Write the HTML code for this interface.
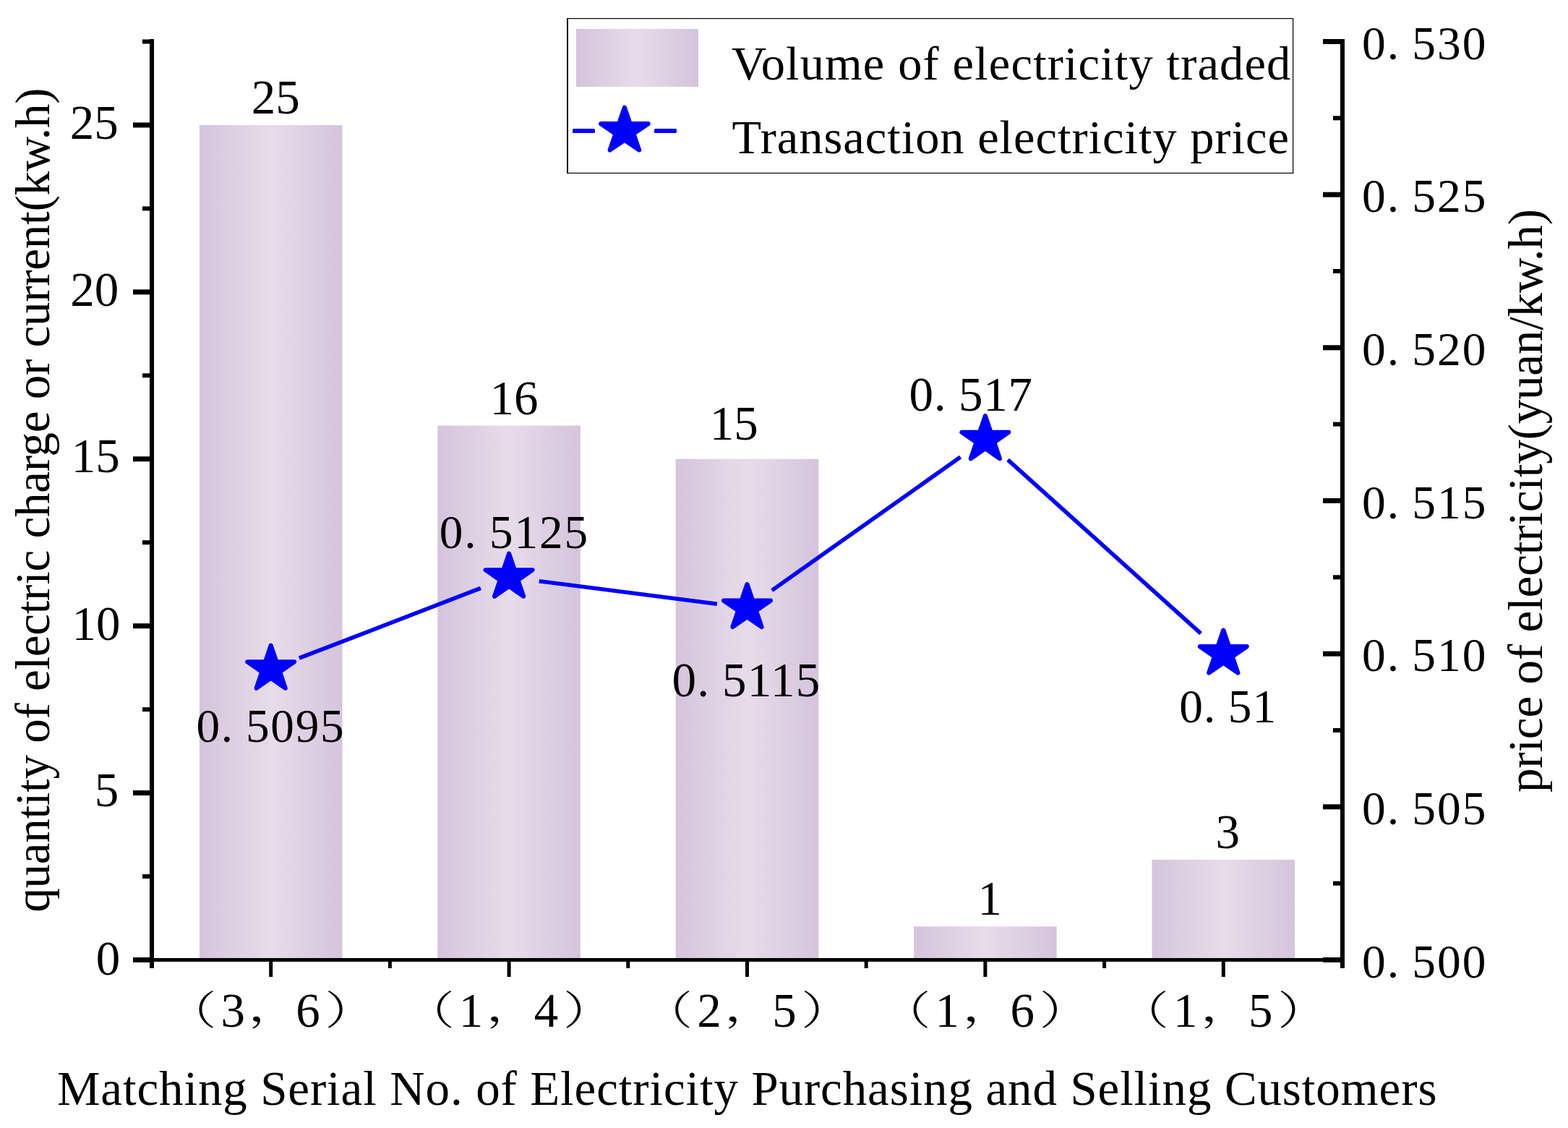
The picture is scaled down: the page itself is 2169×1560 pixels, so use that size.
<!DOCTYPE html><html><head><meta charset="utf-8"><title>chart</title><style>html,body{margin:0;padding:0;background:#fff;overflow:hidden}svg{display:block}</style></head><body>
<svg width="2169" height="1560" viewBox="0 0 2169 1560">
<defs><linearGradient id="bg" x1="0" y1="0" x2="1" y2="0"><stop offset="0" stop-color="#d5c4dc"/><stop offset="0.5" stop-color="#e7dcea"/><stop offset="1" stop-color="#d5c4dc"/></linearGradient></defs>
<rect width="2169" height="1560" fill="#fff"/>
<rect x="275.90" y="172.95" width="197.60" height="1154.55" fill="url(#bg)"/>
<rect x="605.30" y="588.59" width="197.60" height="738.91" fill="url(#bg)"/>
<rect x="934.70" y="634.77" width="197.60" height="692.73" fill="url(#bg)"/>
<rect x="1264.10" y="1281.32" width="197.60" height="46.18" fill="url(#bg)"/>
<rect x="1593.50" y="1188.95" width="197.60" height="138.55" fill="url(#bg)"/>
<line x1="413.89" y1="910.22" x2="664.91" y2="813.44" stroke="#0000ff" stroke-width="5.6"/>
<line x1="745.76" y1="803.69" x2="991.84" y2="835.31" stroke="#0000ff" stroke-width="5.6"/>
<line x1="1067.80" y1="816.42" x2="1328.60" y2="632.08" stroke="#0000ff" stroke-width="5.6"/>
<line x1="1394.12" y1="635.92" x2="1661.08" y2="876.08" stroke="#0000ff" stroke-width="5.6"/>
<polygon points="374.70,892.73 382.35,915.26 407.10,915.26 387.07,929.18 394.72,951.71 374.70,937.78 354.68,951.71 362.33,929.18 342.30,915.26 367.05,915.26" fill="#0000ff" stroke="#0000ff" stroke-width="6.20" stroke-linejoin="round"/>
<polygon points="704.10,765.73 711.75,788.26 736.50,788.26 716.47,802.18 724.12,824.71 704.10,810.78 684.08,824.71 691.73,802.18 671.70,788.26 696.45,788.26" fill="#0000ff" stroke="#0000ff" stroke-width="6.20" stroke-linejoin="round"/>
<polygon points="1033.50,808.07 1041.15,830.59 1065.90,830.59 1045.87,844.51 1053.52,867.04 1033.50,853.12 1013.48,867.04 1021.13,844.51 1001.10,830.59 1025.85,830.59" fill="#0000ff" stroke="#0000ff" stroke-width="6.20" stroke-linejoin="round"/>
<polygon points="1362.90,575.23 1370.55,597.76 1395.30,597.76 1375.27,611.68 1382.92,634.21 1362.90,620.28 1342.88,634.21 1350.53,611.68 1330.50,597.76 1355.25,597.76" fill="#0000ff" stroke="#0000ff" stroke-width="6.20" stroke-linejoin="round"/>
<polygon points="1692.30,871.57 1699.95,894.09 1724.70,894.09 1704.67,908.01 1712.32,930.54 1692.30,916.62 1672.28,930.54 1679.93,908.01 1659.90,894.09 1684.65,894.09" fill="#0000ff" stroke="#0000ff" stroke-width="6.20" stroke-linejoin="round"/>
<g fill="#000">
<rect x="207" y="54" width="6" height="1285"/>
<rect x="1854" y="54" width="6" height="1285"/>
<rect x="207" y="1325" width="1653" height="5"/>
<rect x="184" y="1324.00" width="29" height="7"/>
<rect x="197" y="1209.05" width="16" height="6"/>
<rect x="184" y="1093.09" width="29" height="7"/>
<rect x="197" y="978.14" width="16" height="6"/>
<rect x="184" y="862.18" width="29" height="7"/>
<rect x="197" y="747.23" width="16" height="6"/>
<rect x="184" y="631.27" width="29" height="7"/>
<rect x="197" y="516.32" width="16" height="6"/>
<rect x="184" y="400.36" width="29" height="7"/>
<rect x="197" y="285.41" width="16" height="6"/>
<rect x="184" y="169.45" width="29" height="7"/>
<rect x="197" y="54.50" width="16" height="6"/>
<rect x="1830" y="1324.00" width="30" height="7"/>
<rect x="1844" y="1218.67" width="16" height="6"/>
<rect x="1830" y="1112.33" width="30" height="7"/>
<rect x="1844" y="1007.00" width="16" height="6"/>
<rect x="1830" y="900.67" width="30" height="7"/>
<rect x="1844" y="795.33" width="16" height="6"/>
<rect x="1830" y="689.00" width="30" height="7"/>
<rect x="1844" y="583.67" width="16" height="6"/>
<rect x="1830" y="477.33" width="30" height="7"/>
<rect x="1844" y="372.00" width="16" height="6"/>
<rect x="1830" y="265.67" width="30" height="7"/>
<rect x="1844" y="160.33" width="16" height="6"/>
<rect x="1830" y="54.00" width="30" height="7"/>
<rect x="372.20" y="1328" width="5" height="23"/>
<rect x="701.60" y="1328" width="5" height="23"/>
<rect x="1031.00" y="1328" width="5" height="23"/>
<rect x="1360.40" y="1328" width="5" height="23"/>
<rect x="1689.80" y="1328" width="5" height="23"/>
<rect x="536.90" y="1328" width="5" height="11"/>
<rect x="866.30" y="1328" width="5" height="11"/>
<rect x="1195.70" y="1328" width="5" height="11"/>
<rect x="1525.10" y="1328" width="5" height="11"/>
</g>
<g fill="#000"><rect x="784" y="25" width="2" height="215"/><rect x="784" y="25" width="1005.2" height="1.2"/><rect x="1788" y="25" width="1.2" height="215"/><rect x="784" y="238.8" width="1005.2" height="1.2"/></g>
<rect x="797" y="40" width="169" height="80" fill="url(#bg)"/>
<rect x="792" y="178" width="31" height="6" rx="1.5" fill="#0000ff"/>
<rect x="905" y="178" width="31" height="6" rx="1.5" fill="#0000ff"/>
<polygon points="863.90,148.80 871.63,171.17 896.56,171.19 876.40,185.03 884.09,207.41 863.90,193.60 843.71,207.41 851.40,185.03 831.24,171.19 856.17,171.17" fill="#0000ff" stroke="#0000ff" stroke-width="6.20" stroke-linejoin="round"/>
<g fill="#000">
<text id="L0" x="0" y="0" transform="translate(132.65,1347.80)" style="font-family:'Liberation Serif', serif;font-size:67px">0</text>
<text id="L5" x="0" y="0" transform="translate(130.85,1115.35)" style="font-family:'Liberation Serif', serif;font-size:67px">5</text>
<text id="L10" x="0" y="0" transform="translate(99.50,884.50)" style="font-family:'Liberation Serif', serif;font-size:67px">10</text>
<text id="L15" x="0" y="0" transform="translate(98.85,653.35)" style="font-family:'Liberation Serif', serif;font-size:67px">15</text>
<text id="L20" x="0" y="0" transform="translate(97.25,423.40)" style="font-family:'Liberation Serif', serif;font-size:67px">20</text>
<text id="L25" x="0" y="0" transform="translate(96.80,192.30)" style="font-family:'Liberation Serif', serif;font-size:67px">25</text>
<text id="R0" x="0" y="0" dx="0 0 16.75" transform="translate(1883.94,1351.72) scale(0.9783,0.9783)" style="font-family:'Liberation Serif', serif;font-size:67px" textLength="175.43" lengthAdjust="spacing">0.500</text>
<text id="R1" x="0" y="0" dx="0 0 16.75" transform="translate(1883.94,1140.06) scale(0.9783,0.9783)" style="font-family:'Liberation Serif', serif;font-size:67px" textLength="175.43" lengthAdjust="spacing">0.505</text>
<text id="R2" x="0" y="0" dx="0 0 16.75" transform="translate(1883.94,928.39) scale(0.9783,0.9783)" style="font-family:'Liberation Serif', serif;font-size:67px" textLength="175.43" lengthAdjust="spacing">0.510</text>
<text id="R3" x="0" y="0" dx="0 0 16.75" transform="translate(1883.94,716.72) scale(0.9783,0.9783)" style="font-family:'Liberation Serif', serif;font-size:67px" textLength="175.43" lengthAdjust="spacing">0.515</text>
<text id="R4" x="0" y="0" dx="0 0 16.75" transform="translate(1883.94,505.06) scale(0.9783,0.9783)" style="font-family:'Liberation Serif', serif;font-size:67px" textLength="175.43" lengthAdjust="spacing">0.520</text>
<text id="R5" x="0" y="0" dx="0 0 16.75" transform="translate(1883.94,293.39) scale(0.9783,0.9783)" style="font-family:'Liberation Serif', serif;font-size:67px" textLength="175.43" lengthAdjust="spacing">0.525</text>
<text id="R6" x="0" y="0" dx="0 0 16.75" transform="translate(1883.94,81.72) scale(0.9783,0.9783)" style="font-family:'Liberation Serif', serif;font-size:67px" textLength="175.43" lengthAdjust="spacing">0.530</text>
<text id="B0" x="0" y="0" transform="translate(347.75,157.00)" style="font-family:'Liberation Serif', serif;font-size:67px">25</text>
<text id="B1" x="0" y="0" transform="translate(677.60,573.10)" style="font-family:'Liberation Serif', serif;font-size:67px">16</text>
<text id="B2" x="0" y="0" transform="translate(981.80,607.90)" style="font-family:'Liberation Serif', serif;font-size:67px">15</text>
<text id="B3" x="0" y="0" transform="translate(1352.50,1265.45)" style="font-family:'Liberation Serif', serif;font-size:67px">1</text>
<text id="B4" x="0" y="0" transform="translate(1681.40,1173.30)" style="font-family:'Liberation Serif', serif;font-size:67px">3</text>
<text id="P0" x="0" y="0" dx="0 0 16.75" transform="translate(271.45,1026.03) scale(0.9739,0.9739)" style="font-family:'Liberation Serif', serif;font-size:67px" textLength="209.63" lengthAdjust="spacing">0.5095</text>
<text id="P1" x="0" y="0" dx="0 0 16.75" transform="translate(607.75,757.63) scale(0.9739,0.9739)" style="font-family:'Liberation Serif', serif;font-size:67px" textLength="210.96" lengthAdjust="spacing">0.5125</text>
<text id="P2" x="0" y="0" dx="0 0 16.75" transform="translate(929.60,963.00) scale(1.0022,1.0022)" style="font-family:'Liberation Serif', serif;font-size:67px" textLength="204.39" lengthAdjust="spacing">0.5115</text>
<text id="P3" x="0" y="0" dx="0 0 16.75" transform="translate(1257.40,568.00) scale(1.0022,1.0022)" style="font-family:'Liberation Serif', serif;font-size:67px" textLength="170.35" lengthAdjust="spacing">0.517</text>
<text id="P4" x="0" y="0" dx="0 0 16.75" transform="translate(1631.15,998.82) scale(0.9761,0.9761)" style="font-family:'Liberation Serif', serif;font-size:67px" textLength="137.39" lengthAdjust="spacing">0.51</text>
<text id="X0a" x="0" y="0" transform="translate(230.77,1417.05) scale(1.0211,0.8258)" style="font-family:'Liberation Serif', 'Noto Serif CJK SC', serif;font-size:67px;font-weight:300">（</text>
<text id="X0b" x="0" y="0" transform="translate(305.40,1420.30)" style="font-family:'Liberation Serif', serif;font-size:67px">3</text>
<text id="X0c" x="0" y="0" transform="translate(343.45,1411.60) scale(1.0700,0.8000)" style="font-family:'Liberation Serif', 'Noto Serif CJK SC', serif;font-size:67px">，</text>
<text id="X0d" x="0" y="0" transform="translate(409.35,1420.30)" style="font-family:'Liberation Serif', serif;font-size:67px">6</text>
<text id="X0e" x="0" y="0" transform="translate(449.53,1417.05) scale(1.0421,0.8258)" style="font-family:'Liberation Serif', 'Noto Serif CJK SC', serif;font-size:67px;font-weight:300">）</text>
<text id="X1a" x="0" y="0" transform="translate(560.17,1417.05) scale(1.0211,0.8258)" style="font-family:'Liberation Serif', 'Noto Serif CJK SC', serif;font-size:67px;font-weight:300">（</text>
<text id="X1b" x="0" y="0" transform="translate(634.80,1420.30)" style="font-family:'Liberation Serif', serif;font-size:67px">1</text>
<text id="X1c" x="0" y="0" transform="translate(672.85,1411.60) scale(1.0700,0.8000)" style="font-family:'Liberation Serif', 'Noto Serif CJK SC', serif;font-size:67px">，</text>
<text id="X1d" x="0" y="0" transform="translate(738.75,1420.30)" style="font-family:'Liberation Serif', serif;font-size:67px">4</text>
<text id="X1e" x="0" y="0" transform="translate(778.93,1417.05) scale(1.0421,0.8258)" style="font-family:'Liberation Serif', 'Noto Serif CJK SC', serif;font-size:67px;font-weight:300">）</text>
<text id="X2a" x="0" y="0" transform="translate(889.57,1417.05) scale(1.0211,0.8258)" style="font-family:'Liberation Serif', 'Noto Serif CJK SC', serif;font-size:67px;font-weight:300">（</text>
<text id="X2b" x="0" y="0" transform="translate(964.20,1420.30)" style="font-family:'Liberation Serif', serif;font-size:67px">2</text>
<text id="X2c" x="0" y="0" transform="translate(1002.25,1411.60) scale(1.0700,0.8000)" style="font-family:'Liberation Serif', 'Noto Serif CJK SC', serif;font-size:67px">，</text>
<text id="X2d" x="0" y="0" transform="translate(1068.15,1420.30)" style="font-family:'Liberation Serif', serif;font-size:67px">5</text>
<text id="X2e" x="0" y="0" transform="translate(1108.33,1417.05) scale(1.0421,0.8258)" style="font-family:'Liberation Serif', 'Noto Serif CJK SC', serif;font-size:67px;font-weight:300">）</text>
<text id="X3a" x="0" y="0" transform="translate(1218.97,1417.05) scale(1.0211,0.8258)" style="font-family:'Liberation Serif', 'Noto Serif CJK SC', serif;font-size:67px;font-weight:300">（</text>
<text id="X3b" x="0" y="0" transform="translate(1293.60,1420.30)" style="font-family:'Liberation Serif', serif;font-size:67px">1</text>
<text id="X3c" x="0" y="0" transform="translate(1331.65,1411.60) scale(1.0700,0.8000)" style="font-family:'Liberation Serif', 'Noto Serif CJK SC', serif;font-size:67px">，</text>
<text id="X3d" x="0" y="0" transform="translate(1397.55,1420.30)" style="font-family:'Liberation Serif', serif;font-size:67px">6</text>
<text id="X3e" x="0" y="0" transform="translate(1437.73,1417.05) scale(1.0421,0.8258)" style="font-family:'Liberation Serif', 'Noto Serif CJK SC', serif;font-size:67px;font-weight:300">）</text>
<text id="X4a" x="0" y="0" transform="translate(1548.37,1417.05) scale(1.0211,0.8258)" style="font-family:'Liberation Serif', 'Noto Serif CJK SC', serif;font-size:67px;font-weight:300">（</text>
<text id="X4b" x="0" y="0" transform="translate(1623.00,1420.30)" style="font-family:'Liberation Serif', serif;font-size:67px">1</text>
<text id="X4c" x="0" y="0" transform="translate(1661.05,1411.60) scale(1.0700,0.8000)" style="font-family:'Liberation Serif', 'Noto Serif CJK SC', serif;font-size:67px">，</text>
<text id="X4d" x="0" y="0" transform="translate(1726.95,1420.30)" style="font-family:'Liberation Serif', serif;font-size:67px">5</text>
<text id="X4e" x="0" y="0" transform="translate(1767.13,1417.05) scale(1.0421,0.8258)" style="font-family:'Liberation Serif', 'Noto Serif CJK SC', serif;font-size:67px;font-weight:300">）</text>
<text id="XT" x="0" y="0" transform="translate(78.90,1528.20)" style="font-family:'Liberation Serif', serif;font-size:67px" textLength="1908.57" lengthAdjust="spacing">Matching Serial No. of Electricity Purchasing and Selling Customers</text>
<text id="LT" x="0" y="0" transform="translate(67.70,1261.80) rotate(-90)" style="font-family:'Liberation Serif', serif;font-size:67px" textLength="1140.30" lengthAdjust="spacing">quantity of electric charge or current(kw.h)</text>
<text id="RT" x="0" y="0" transform="translate(2132.80,1096.00) rotate(-90)" style="font-family:'Liberation Serif', serif;font-size:67px" textLength="807.01" lengthAdjust="spacing">price of electricity(yuan/kw.h)</text>
<text id="G1" x="0" y="0" transform="translate(1012.10,109.80)" style="font-family:'Liberation Serif', serif;font-size:66.5px" textLength="773.24" lengthAdjust="spacing">Volume of electricity traded</text>
<text id="G2" x="0" y="0" transform="translate(1012.40,211.80)" style="font-family:'Liberation Serif', serif;font-size:66.5px" textLength="770.55" lengthAdjust="spacing">Transaction electricity price</text>
</g>
</svg></body></html>
